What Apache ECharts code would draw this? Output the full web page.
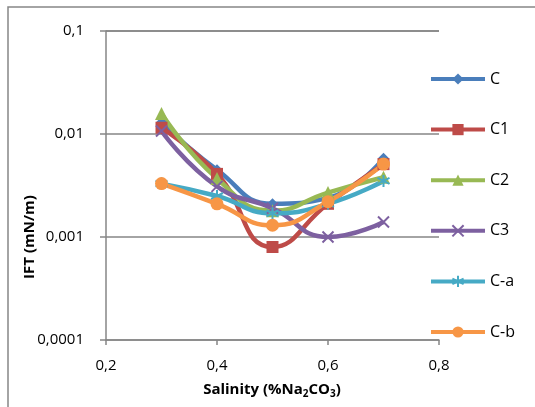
<!DOCTYPE html>
<html>
<head>
<meta charset="utf-8">
<script src="https://cdn.jsdelivr.net/npm/echarts@6/dist/echarts.min.js"></script>
<style>
  html, body { margin: 0; padding: 0; background: #fff; }
  #chart { width: 535px; height: 407px; }
</style>
</head>
<body>
<div id="chart"></div>
<script>
// salinity (%Na2CO3)
const salinity = [0.3, 0.4, 0.5, 0.6, 0.7];

// IFT (mN/m) per sample
const seriesNames = ['C', 'C1', 'C2', 'C3', 'C-a', 'C-b'];
const ift_C = [0.013, 0.0045, 0.0021, 0.0024, 0.0058];
const ift_C1 = [0.0115, 0.0041, 0.0008, 0.0021, 0.0051];
const ift_C2 = [0.0158, 0.0037, 0.0018, 0.0027, 0.0038];
const ift_C3 = [0.0107, 0.0031, 0.0019, 0.001, 0.0014];
const ift_Ca = [0.0033, 0.0025, 0.0017, 0.0021, 0.0035];
const ift_Cb = [0.0033, 0.0021, 0.0013, 0.0022, 0.0051];

const yTickLabels = ['0,0001', '0,001', '0,01', '0,1'];

const colors = ['#4A7EBB', '#BE4B48', '#98B954', '#7D60A0', '#46AAC5', '#F79646'];
const symbols = [
  'diamond',
  'rect',
  'triangle',
  'path://M0,0L10,10M10,0L0,10',
  'path://M5,-1L5,11M0,2L10,8M0,8L10,2',
  'circle',
];
const symbolSizes = [11, 12, 13, 11, 12, 13];
const allData = [ift_C, ift_C1, ift_C2, ift_C3, ift_Ca, ift_Cb];

const chart = echarts.init(document.getElementById('chart'));
const font = '"Open Sans", "Liberation Sans", sans-serif';

const option = {
  animation: false,
  textStyle: { fontFamily: font },
  grid: { left: 106, top: 31, width: 333, height: 309 },
  xAxis: {
    type: 'value',
    min: 0.2,
    max: 0.8,
    interval: 0.2,
    axisLine: { lineStyle: { color: '#868686', width: 1.5 } },
    axisTick: { show: true, length: 5, lineStyle: { color: '#868686', width: 1.5 } },
    splitLine: { show: false },
    axisLabel: {
      color: '#000', fontSize: 15, margin: 18,
      formatter: (v) => v.toFixed(1).replace('.', ','),
    },
  },
  yAxis: {
    type: 'log',
    logBase: 10,
    min: 0.0001,
    max: 0.1,
    axisLine: { show: true, lineStyle: { color: '#868686', width: 1.5 } },
    axisTick: { show: true, length: 6, lineStyle: { color: '#868686', width: 1.5 } },
    minorTick: { show: false },
    splitLine: { show: true, lineStyle: { color: '#868686', width: 1.5 } },
    axisLabel: {
      color: '#000', fontSize: 15, margin: 22,
      formatter: (v) => yTickLabels[Math.round(Math.log10(v)) + 4],
    },
  },
  legend: {
    orient: 'vertical',
    left: 424,
    top: 66,
    itemWidth: 54,
    itemHeight: 14,
    itemGap: 34.6,
    lineStyle: { width: 4 },
    textStyle: { fontSize: 16, color: '#000' },
    data: seriesNames,
  },
  series: seriesNames.map((name, i) => ({
    name,
    type: 'line',
    smooth: 0.5,
    data: salinity.map((x, j) => [x, allData[i][j]]),
    symbol: symbols[i],
    symbolSize: symbolSizes[i],
    showAllSymbol: true,
    lineStyle: { color: colors[i], width: 4.5 },
    itemStyle: {
      color: colors[i],
      borderColor: colors[i],
      borderWidth: (i === 3 || i === 4) ? 2 : 0,
    },
    emphasis: { disabled: true },
  })),
  graphic: [
    {
      type: 'rect',
      shape: { x: 8, y: 7, width: 540, height: 420 },
      style: { fill: 'none', stroke: '#868686', lineWidth: 1.5 },
      silent: true,
    },
    {
      type: 'text',
      x: 30,
      y: 237,
      rotation: Math.PI / 2,
      style: {
        text: 'IFT (mN/m)',
        font: 'bold 15px ' + font,
        fill: '#000',
        align: 'center',
        verticalAlign: 'middle',
      },
    },
    {
      type: 'text',
      x: 272,
      y: 390,
      style: {
        rich: {
          n: { font: 'bold 15px ' + font, fill: '#000' },
          s: { font: 'bold 10px ' + font, fill: '#000', padding: [8, 0, 0, 0] },
        },
        text: '{n|Salinity (%Na}{s|2}{n|CO}{s|3}{n|)}',
        align: 'center',
        verticalAlign: 'middle',
      },
    },
  ],
};

chart.setOption(option);
</script>
</body>
</html>
